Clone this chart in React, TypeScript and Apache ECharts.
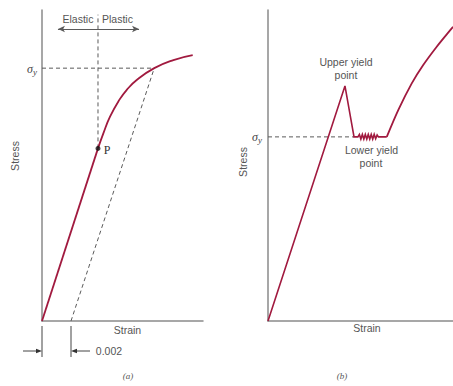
import React, { useEffect, useRef } from "react";
import * as echarts from "echarts";

// ---------- Panel (a): gradual yielding (strain, normalised stress) ----------
const elasticA: number[][] = [
  [0, 0],
  [0.00386, 0.555],
];
const plasticA: number[][] = [
  [0.00386, 0.555],
  [0.00423, 0.6035],
  [0.00469, 0.657],
  [0.00533, 0.711],
  [0.00584, 0.743],
  [0.00653, 0.775],
  [0.00774, 0.813],
  [0.00906, 0.839],
  [0.01039, 0.855],
];
const pointP: number[] = [0.00386, 0.555];
const yieldPointA: number[] = [0.00774, 0.813];
const offsetStrain = 0.002;
const strainMaxA = 0.0111;
const elasticPlasticArrow: number[][] = [
  [0.0011, 0.939],
  [0.00669, 0.939],
];
const dividerTopA = 0.985;

// ---------- Panel (b): yield-point phenomenon (normalised strain, stress) ----------
const curveB: number[][] = [
  [0, 0],
  [0.416, 0.756],
  [0.465, 0.592],
  [0.486, 0.592],
  [0.494, 0.600],
  [0.502, 0.585],
  [0.510, 0.600],
  [0.518, 0.585],
  [0.526, 0.600],
  [0.534, 0.585],
  [0.542, 0.600],
  [0.550, 0.585],
  [0.558, 0.600],
  [0.566, 0.585],
  [0.574, 0.600],
  [0.582, 0.586],
  [0.590, 0.598],
  [0.597, 0.592],
  [0.642, 0.592],
];
const hardeningB: number[][] = [
  [0.642, 0.592],
  [0.704, 0.678],
  [0.777, 0.764],
  [0.839, 0.823],
  [0.912, 0.882],
  [0.993, 0.941],
  [1.0, 0.946],
];
const lowerYieldB: number[] = [0.465, 0.592];

const CURVE = "#a11a3f";
const AXIS = "#8a8a8a";
const DASH = "#5a5a5a";
const TEXT = "#555";
const FONT = "'Liberation Sans', Arial, sans-serif";

const W = 453;
const H = 386;

export default function App() {
  const ref = useRef<HTMLDivElement>(null);

  useEffect(() => {
    const chart = echarts.init(ref.current!, null, { renderer: "svg" });

    const axisLine = { show: true, onZero: true, lineStyle: { color: AXIS, width: 1.5 } };
    const hiddenParts = {
      axisTick: { show: false },
      axisLabel: { show: false },
      splitLine: { show: false },
    };
    const dashed = (data: number[][], xi: number) => ({
      type: "line",
      xAxisIndex: xi,
      yAxisIndex: xi,
      data,
      showSymbol: false,
      silent: true,
      z: 1,
      lineStyle: { color: DASH, width: 1, type: [4, 3] },
    });

    chart.setOption({
      animation: false,
      backgroundColor: "#fff",
      grid: [
        { left: 42, top: 10, width: 161, height: 311 },
        { left: 268, top: 10, width: 185, height: 311 },
      ],
      xAxis: [
        { type: "value", gridIndex: 0, min: 0, max: strainMaxA, axisLine, ...hiddenParts },
        { type: "value", gridIndex: 1, min: 0, max: 1, axisLine, ...hiddenParts },
      ],
      yAxis: [
        { type: "value", gridIndex: 0, min: 0, max: 1, axisLine, ...hiddenParts },
        { type: "value", gridIndex: 1, min: 0, max: 1, axisLine, ...hiddenParts },
      ],
      series: [
        dashed([[0, yieldPointA[1]], yieldPointA], 0),
        dashed([[offsetStrain, 0], yieldPointA], 0),
        {
          ...dashed([pointP, [pointP[0], dividerTopA]], 0),
          markLine: {
            silent: true,
            symbol: ["arrow", "arrow"],
            symbolSize: [5, 7],
            label: { show: false },
            lineStyle: { color: DASH, width: 1, type: "solid" },
            data: [[{ coord: elasticPlasticArrow[0] }, { coord: elasticPlasticArrow[1] }]],
          },
        },
        {
          type: "line",
          xAxisIndex: 0,
          yAxisIndex: 0,
          data: elasticA,
          showSymbol: false,
          silent: true,
          z: 3,
          lineStyle: { color: CURVE, width: 1.8 },
        },
        {
          type: "line",
          xAxisIndex: 0,
          yAxisIndex: 0,
          data: plasticA,
          smooth: 0.5,
          showSymbol: false,
          silent: true,
          z: 3,
          lineStyle: { color: CURVE, width: 1.8 },
        },
        {
          type: "scatter",
          xAxisIndex: 0,
          yAxisIndex: 0,
          data: [pointP],
          symbolSize: 5,
          silent: true,
          z: 4,
          itemStyle: { color: "#111" },
        },
        dashed([[0, lowerYieldB[1]], lowerYieldB], 1),
        {
          type: "line",
          xAxisIndex: 1,
          yAxisIndex: 1,
          data: curveB,
          showSymbol: false,
          silent: true,
          z: 3,
          lineStyle: { color: CURVE, width: 1.6, join: "miter" },
        },
        {
          type: "line",
          xAxisIndex: 1,
          yAxisIndex: 1,
          data: hardeningB,
          smooth: 0.3,
          showSymbol: false,
          silent: true,
          z: 3,
          lineStyle: { color: CURVE, width: 1.8 },
        },
      ],
    });

    const o = chart.convertToPixel({ gridIndex: 0 }, [0, 0]) as number[];
    const off = chart.convertToPixel({ gridIndex: 0 }, [offsetStrain, 0]) as number[];
    const dimY = o[1] + 30;
    const dimStyle = { stroke: "#444", lineWidth: 1 };

    const txt = (text: string, x: number, y: number, extra: any = {}, rotation = 0) => ({
      type: "text",
      x,
      y,
      rotation,
      silent: true,
      style: {
        text,
        fill: TEXT,
        font: `10.5px ${FONT}`,
        align: "center",
        verticalAlign: "middle",
        ...extra,
      },
    });
    const sigma = (x: number, y: number) => ({
      type: "text",
      x,
      y,
      silent: true,
      style: {
        text: "{s|σ}{b|y}",
        align: "right",
        verticalAlign: "middle",
        rich: {
          s: { fontFamily: "'Liberation Serif', serif", fontStyle: "italic", fontSize: 12, fill: "#444" },
          b: { fontFamily: "'Liberation Serif', serif", fontStyle: "italic", fontSize: 9, fill: "#444", padding: [5, 0, 0, 0] },
        },
      },
    });

    chart.setOption({
      graphic: [
        txt("Elastic", 78, 19),
        txt("Plastic", 117.5, 19),
        txt("P", 107, 150, { font: `12px 'Liberation Serif', serif`, fill: "#333" }),
        sigma(37, 69),
        txt("Stress", 15, 156, {}, Math.PI / 2),
        txt("Strain", 127.5, 330),
        txt("0.002", 109, dimY, { align: "center" }),
        txt("(a)", 128, 376, { font: `italic 9px 'Liberation Serif', serif` }),
        // dimension lines for the 0.002 offset
        { type: "line", silent: true, shape: { x1: o[0], y1: o[1] + 5, x2: o[0], y2: o[1] + 36 }, style: dimStyle },
        { type: "line", silent: true, shape: { x1: off[0], y1: off[1] + 5, x2: off[0], y2: off[1] + 36 }, style: dimStyle },
        { type: "line", silent: true, shape: { x1: o[0] - 19, y1: dimY, x2: o[0] - 4, y2: dimY }, style: dimStyle },
        {
          type: "polygon",
          silent: true,
          shape: { points: [[o[0] - 6, dimY - 2.2], [o[0], dimY], [o[0] - 6, dimY + 2.2]] },
          style: { fill: "#333" },
        },
        { type: "line", silent: true, shape: { x1: off[0] + 4, y1: dimY, x2: off[0] + 19, y2: dimY }, style: dimStyle },
        {
          type: "polygon",
          silent: true,
          shape: { points: [[off[0] + 6, dimY - 2.2], [off[0], dimY], [off[0] + 6, dimY + 2.2]] },
          style: { fill: "#333" },
        },
        // panel (b)
        txt("Upper yield", 346, 62),
        txt("point", 346, 75),
        txt("Lower yield", 371.5, 150),
        txt("point", 371, 163),
        sigma(262, 137),
        txt("Stress", 243, 162, {}, Math.PI / 2),
        txt("Strain", 367, 328),
        txt("(b)", 342, 376, { font: `italic 9px 'Liberation Serif', serif` }),
      ],
    });

    return () => chart.dispose();
  }, []);

  return (
    <div
      ref={ref}
      style={{ position: "fixed", left: 0, top: 0, width: W, height: H, background: "#fff" }}
    />
  );
}
